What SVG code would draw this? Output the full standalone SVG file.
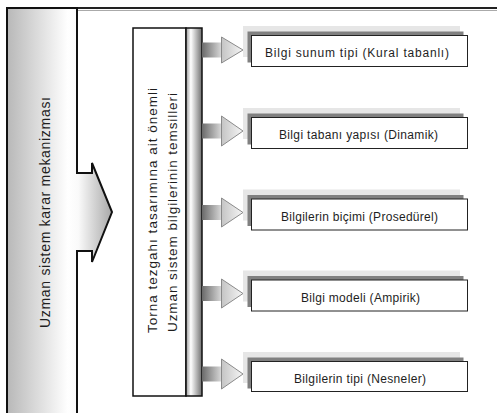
<svg xmlns="http://www.w3.org/2000/svg" width="497" height="413" viewBox="0 0 497 413">
<style>
.t{font-family:"Liberation Sans",Arial,sans-serif;fill:#1e1e1e;text-anchor:middle}
.bt{font-size:12px}
.vt{font-size:13.5px}
.light{fill:#e6e6e6}
.dark{fill:#808080}
.box{fill:#fff;stroke:#222;stroke-width:1}
.body{fill:url(#bodyGrad)}
.head{fill:url(#headGrad);stroke:#8a8a8a;stroke-width:1}
</style>
<defs>
<linearGradient id="colGrad" x1="0" y1="0" x2="1" y2="0">
<stop offset="0" stop-color="#b8b8b8"/>
<stop offset="0.58" stop-color="#ffffff"/>
<stop offset="0.68" stop-color="#fafafa"/>
<stop offset="1" stop-color="#a8a8a8"/>
</linearGradient>
<linearGradient id="stripGrad" x1="0" y1="0" x2="1" y2="0">
<stop offset="0" stop-color="#9a9a9a"/>
<stop offset="0.3" stop-color="#ffffff"/>
<stop offset="1" stop-color="#707070"/>
</linearGradient>
<linearGradient id="bodyGrad" x1="0" y1="0" x2="1" y2="0">
<stop offset="0" stop-color="#6a6a6a"/>
<stop offset="1" stop-color="#d8d8d8"/>
</linearGradient>
<linearGradient id="headGrad" x1="0" y1="0" x2="1" y2="0">
<stop offset="0" stop-color="#c4c4c4"/>
<stop offset="1" stop-color="#f6f6f6"/>
</linearGradient>
</defs>
<rect width="497" height="413" fill="#fff"/>
<g id="frame">
<line x1="7" y1="10.5" x2="497" y2="10.5" stroke="#aaa" stroke-width="1"/>
<line x1="6" y1="8" x2="497" y2="8" stroke="#222" stroke-width="2"/>
</g>
<g id="node-main">
<path d="M7,8 H77 V173 H92 V163 L112,212 L92,262 V251 H77 V414 H7 Z" fill="url(#colGrad)" stroke="#111" stroke-width="2"/>
<text class="t" font-size="14" transform="translate(50,212.5) rotate(-90)" textLength="231" lengthAdjust="spacing">Uzman sistem karar mekanizması</text>
</g>
<g id="node-center">
<rect x="133" y="28" width="53" height="368" fill="#fff" stroke="#111" stroke-width="1.5"/>
<rect x="186" y="28" width="16" height="368" fill="url(#stripGrad)" stroke="#111" stroke-width="1.5"/>
<text class="t vt" transform="translate(157,210.5) rotate(-90)" textLength="245" lengthAdjust="spacing">Torna tezgahı tasarımına ait önemli</text>
<text class="t vt" transform="translate(177,212.5) rotate(-90)" textLength="239" lengthAdjust="spacing">Uzman sistem bilgilerinin temsilleri</text>
</g>
<g id="connectors">
<rect class="body" x="202" y="42.5" width="19.5" height="15"/>
<path class="head" d="M221.5,37 L243,50 L221.5,63 Z"/>
<rect class="body" x="202" y="123.5" width="19.5" height="15"/>
<path class="head" d="M221.5,116 L243,131 L221.5,146 Z"/>
<rect class="body" x="202" y="205" width="19.5" height="15"/>
<path class="head" d="M221.5,198 L243,212.5 L221.5,227 Z"/>
<rect class="body" x="202" y="286" width="19.5" height="15"/>
<path class="head" d="M221.5,279 L243,293.5 L221.5,308 Z"/>
<rect class="body" x="202" y="366.5" width="19.5" height="15"/>
<path class="head" d="M221.5,359 L243,374 L221.5,389 Z"/>
</g>
<g id="node-1">
<rect class="light" x="243" y="26" width="217" height="31"/>
<rect class="dark" x="247.5" y="31.5" width="216" height="31"/>
<rect class="box" x="251.5" y="35.5" width="216" height="31"/>
<text class="t bt" x="357" y="56.5" textLength="184" lengthAdjust="spacing">Bilgi sunum tipi (Kural tabanlı)</text>
</g>
<g id="node-2">
<rect class="light" x="243" y="108" width="217" height="31"/>
<rect class="dark" x="247.5" y="113.5" width="216" height="31"/>
<rect class="box" x="251.5" y="117.5" width="216" height="31"/>
<text class="t bt" x="358.5" y="139" textLength="159" lengthAdjust="spacing">Bilgi tabanı yapısı (Dinamik)</text>
</g>
<g id="node-3">
<rect class="light" x="243" y="189.5" width="217" height="31"/>
<rect class="dark" x="247.5" y="195" width="216" height="31"/>
<rect class="box" x="251.5" y="199" width="216" height="31"/>
<text class="t bt" x="359.5" y="220.5" textLength="157" lengthAdjust="spacing">Bilgilerin biçimi (Prosedürel)</text>
</g>
<g id="node-4">
<rect class="light" x="243" y="270.5" width="217" height="31"/>
<rect class="dark" x="247.5" y="276" width="216" height="31"/>
<rect class="box" x="251.5" y="280" width="216" height="31"/>
<text class="t bt" x="360.5" y="301.5" textLength="119" lengthAdjust="spacing">Bilgi modeli (Ampirik)</text>
</g>
<g id="node-5">
<rect class="light" x="243" y="352" width="217" height="31"/>
<rect class="dark" x="247.5" y="357.5" width="216" height="31"/>
<rect class="box" x="251.5" y="361.5" width="216" height="30"/>
<text class="t bt" x="360" y="382.5" textLength="132" lengthAdjust="spacing">Bilgilerin tipi (Nesneler)</text>
</g>
</svg>
